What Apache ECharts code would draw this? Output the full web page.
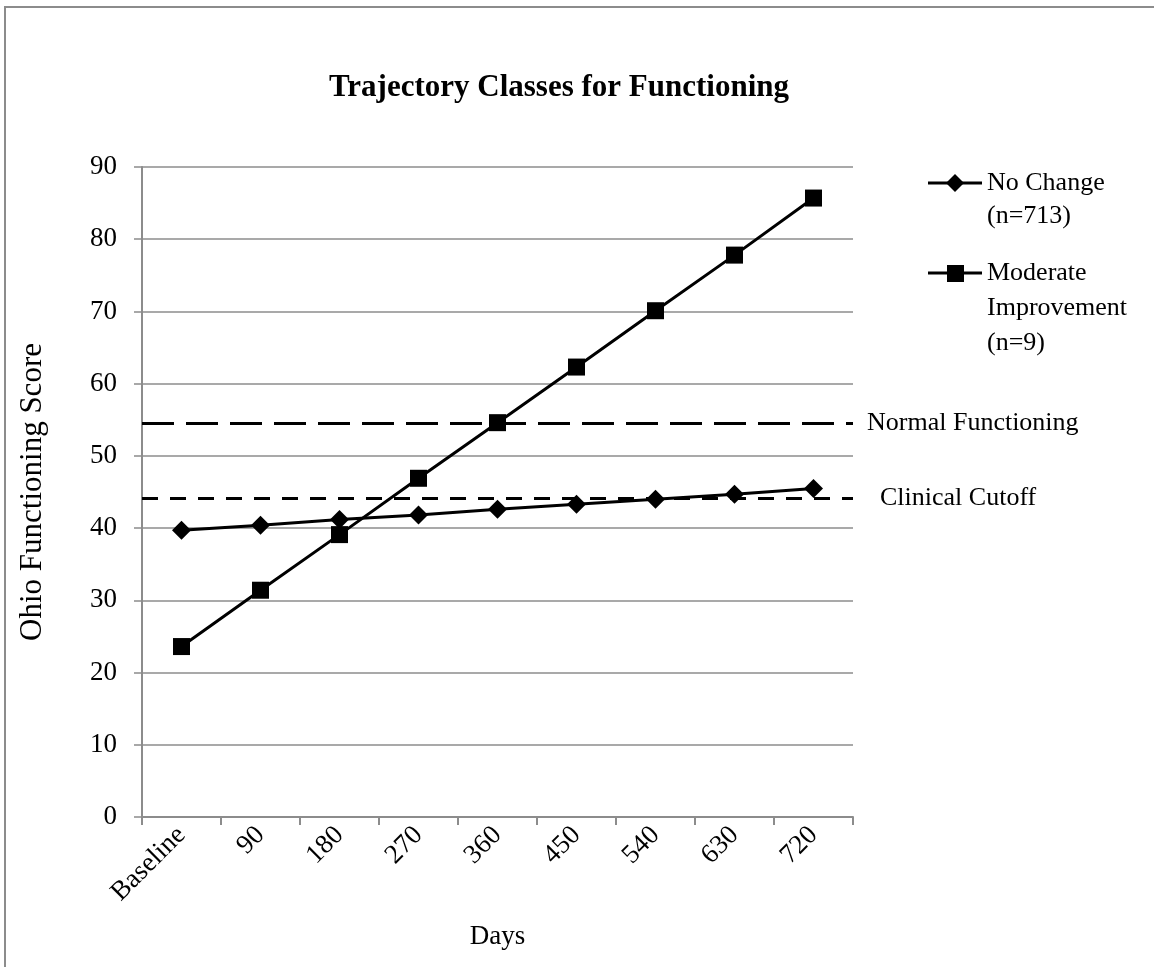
<!DOCTYPE html>
<html>
<head>
<meta charset="utf-8">
<title>Trajectory Classes for Functioning</title>
<script src="https://cdn.jsdelivr.net/npm/echarts@6/dist/echarts.min.js"></script>
<style>
  html, body { margin: 0; padding: 0; background: #fff; overflow: hidden; width: 1154px; height: 967px; }
  #frame { position: absolute; left: 4px; top: 6px; width: 1150px; height: 961px;
           border-left: 2px solid #8c8c8c; border-top: 2px solid #8c8c8c; box-sizing: border-box; }
  #chart { position: absolute; left: 0; top: 0; width: 1154px; height: 967px; }
</style>
</head>
<body>
<div id="frame"></div>
<div id="chart"></div>
<script>
// Measurement occasions
const days = ['Baseline', '90', '180', '270', '360', '450', '540', '630', '720'];

// Estimated class trajectories (Ohio Functioning Score)
const noChange = [39.7, 40.4, 41.2, 41.8, 42.6, 43.3, 44.0, 44.7, 45.5];
const moderateImprovement = [23.6, 31.4, 39.1, 46.9, 54.6, 62.3, 70.1, 77.8, 85.7];

// Class labels
const classNames = ['No Change (n=713)', 'Moderate Improvement (n=9)'];
const classLegendLines = [['No Change', '(n=713)'], ['Moderate', 'Improvement', '(n=9)']];

// Reference thresholds
const refNames = ['Normal Functioning', 'Clinical Cutoff'];
const refValues = [54.5, 44.2];

// Score axis
const yMin = 0, yMax = 90, yStep = 10;

const FONT = '"Liberation Serif", "DejaVu Serif", serif';
const GRID = '#8c8c8c';

const chart = echarts.init(document.getElementById('chart'), null, { renderer: 'canvas' });

// Legend drawn as graphic items so the marker sits beside the first text line
function legendItem(top, lines, symbol, lineHeight) {
  const marker = symbol === 'diamond'
    ? { type: 'polygon', shape: { points: [[27, -9], [36, 0], [27, 9], [18, 0]] }, style: { fill: '#000' } }
    : { type: 'rect', shape: { x: 19, y: -8, width: 17, height: 17 }, style: { fill: '#000' } };
  return {
    type: 'group', x: 928, y: top,
    children: [
      { type: 'line', shape: { x1: 0, y1: 0, x2: 54, y2: 0 }, style: { stroke: '#000', lineWidth: 3 } },
      marker,
      { type: 'text', x: 59, y: -lineHeight / 2,
        style: { text: lines.join('\n'), fontFamily: FONT, fontSize: 26, lineHeight: lineHeight,
                 fill: '#000', verticalAlign: 'top', align: 'left' } }
    ]
  };
}

const refStyles = [
  { type: [32, 12], distance: 14 },
  { type: [16, 12], distance: 27 }
];

const option = {
  animation: false,
  title: {
    text: 'Trajectory Classes for Functioning',
    left: 554, top: 67, textAlign: 'center',
    textStyle: { fontFamily: FONT, fontSize: 31, fontWeight: 'bold', color: '#000' }
  },
  grid: { left: 142, right: 301, top: 167, bottom: 150 },
  xAxis: {
    type: 'category',
    data: days,
    boundaryGap: true,
    name: 'Days',
    nameLocation: 'middle',
    nameGap: 106,
    nameTextStyle: { fontFamily: FONT, fontSize: 27, color: '#000' },
    axisLine: { lineStyle: { color: GRID, width: 2 } },
    axisTick: { show: true, length: 8, lineStyle: { color: GRID, width: 2 } },
    axisLabel: { rotate: 45, margin: 14, fontFamily: FONT, fontSize: 27, color: '#000', interval: 0 },
    splitLine: { show: false }
  },
  yAxis: {
    type: 'value',
    min: yMin, max: yMax, interval: yStep,
    name: 'Ohio Functioning Score',
    nameLocation: 'middle',
    nameGap: 94,
    nameTextStyle: { fontFamily: FONT, fontSize: 31, color: '#000' },
    axisLine: { show: true, lineStyle: { color: GRID, width: 2 } },
    axisTick: { show: true, length: 8, lineStyle: { color: GRID, width: 1.5 } },
    axisLabel: { margin: 25, fontFamily: FONT, fontSize: 27, color: '#000' },
    splitLine: { show: true, lineStyle: { color: GRID, width: 1.5 } }
  },
  series: [
    {
      name: classNames[0],
      type: 'line',
      data: noChange,
      symbol: 'diamond',
      symbolSize: 19,
      lineStyle: { color: '#000', width: 3 },
      itemStyle: { color: '#000' },
      z: 4,
      markLine: {
        silent: true,
        symbol: ['none', 'none'],
        data: refValues.map((v, i) => ({
          yAxis: v,
          lineStyle: { color: '#000', width: 3, type: refStyles[i].type },
          label: {
            show: true, position: 'end', distance: refStyles[i].distance,
            formatter: refNames[i], fontFamily: FONT, fontSize: 26, color: '#000'
          }
        }))
      }
    },
    {
      name: classNames[1],
      type: 'line',
      data: moderateImprovement,
      symbol: 'rect',
      symbolSize: 17,
      lineStyle: { color: '#000', width: 3 },
      itemStyle: { color: '#000' },
      z: 5
    }
  ],
  graphic: [
    legendItem(183, classLegendLines[0], 'diamond', 33),
    legendItem(273, classLegendLines[1], 'rect', 35)
  ]
};

chart.setOption(option);
</script>
</body>
</html>
